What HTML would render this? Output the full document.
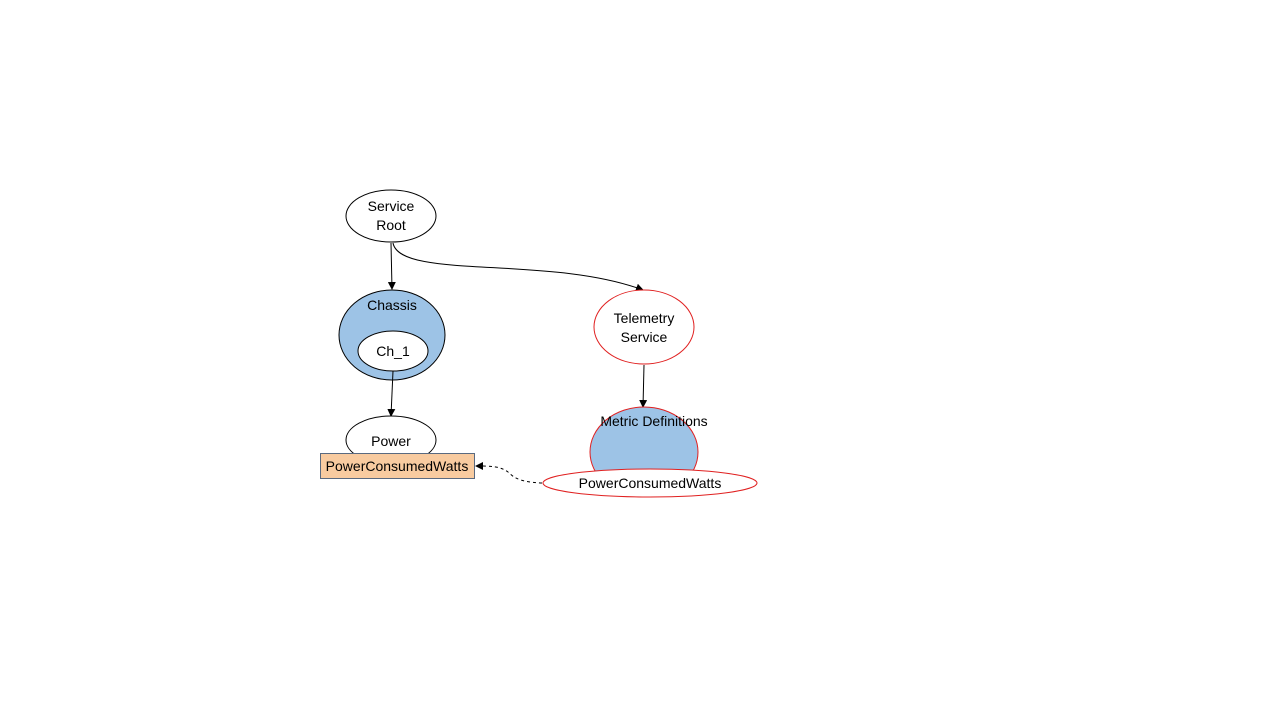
<!DOCTYPE html>
<html><head><style>body{margin:0;background:#fff}svg{display:block}text{font-family:"Liberation Sans",Arial,sans-serif;font-size:14px;fill:#000}</style></head><body>
<svg width="1280" height="720" viewBox="0 0 1280 720">
<defs><marker id="a" markerWidth="8" markerHeight="8" refX="7" refY="4" orient="auto" markerUnits="userSpaceOnUse"><path d="M0,0 L8,4 L0,8 z" fill="#000"/></marker></defs>
<ellipse cx="391" cy="216" rx="45" ry="26" fill="#fff" stroke="#000"/>
<text x="391" y="211" text-anchor="middle">Service</text>
<text x="391" y="230" text-anchor="middle">Root</text>
<path d="M391,243 L392,289" stroke="#000" fill="none" marker-end="url(#a)"/>
<path d="M393,243 C400,280 550,255 643,290" stroke="#000" fill="none" marker-end="url(#a)"/>
<ellipse cx="392" cy="335" rx="53" ry="45" fill="#9dc3e6" stroke="#000"/>
<text x="392" y="310" text-anchor="middle">Chassis</text>
<ellipse cx="393" cy="351" rx="35" ry="20" fill="#fff" stroke="#000"/>
<text x="393" y="356" text-anchor="middle">Ch_1</text>
<path d="M393,371 L391,416" stroke="#000" fill="none" marker-end="url(#a)"/>
<ellipse cx="391" cy="440" rx="45" ry="24" fill="#fff" stroke="#000"/>
<text x="391" y="446" text-anchor="middle">Power</text>
<rect x="320.5" y="453.5" width="154" height="25" fill="#f8cba0" stroke="#5a6a80"/>
<text x="397" y="471" text-anchor="middle">PowerConsumedWatts</text>
<ellipse cx="644" cy="327" rx="50" ry="37" fill="#fff" stroke="#e02020"/>
<text x="644" y="323" text-anchor="middle">Telemetry</text>
<text x="644" y="342" text-anchor="middle">Service</text>
<path d="M644,365 L643,407" stroke="#000" fill="none" marker-end="url(#a)"/>
<ellipse cx="644" cy="452" rx="54" ry="45" fill="#9dc3e6" stroke="#e02020"/>
<text x="654" y="426" text-anchor="middle">Metric Definitions</text>
<ellipse cx="650" cy="483" rx="107" ry="14" fill="#fff" stroke="#e02020"/>
<text x="650" y="488" text-anchor="middle">PowerConsumedWatts</text>
<path d="M542,483 C515,482 512,475 508,472 C500,466 490,466 476,466" stroke="#000" fill="none" stroke-dasharray="3,3" marker-end="url(#a)"/>
</svg>
</body></html>
